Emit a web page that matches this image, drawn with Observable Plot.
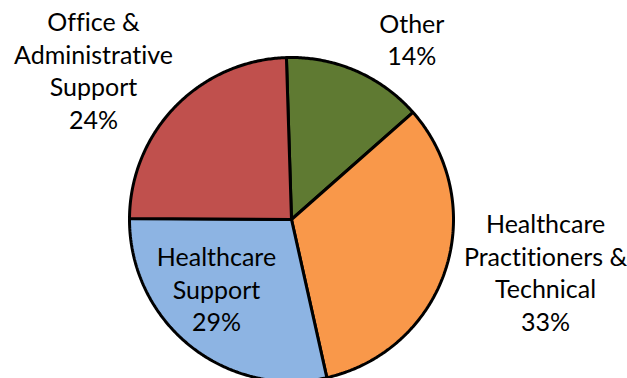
<!DOCTYPE html>
<html>
<head>
<meta charset="utf-8">
<script src="https://cdn.jsdelivr.net/npm/d3@7"></script>
<script src="https://cdn.jsdelivr.net/npm/@observablehq/plot@0.6"></script>
<style>
  html, body { margin: 0; padding: 0; background: #fff; overflow: hidden; }
  svg text { font-variant-ligatures: none; font-feature-settings: "liga" 0, "clig" 0; }
</style>
</head>
<body>
<div id="chart"></div>
<script>
// Data (clockwise from top)
const categories = ["Other", "Healthcare Practitioners & Technical", "Healthcare Support", "Office & Administrative Support"];
const labelLines = [
  ["Other", "14%"],
  ["Healthcare", "Practitioners &", "Technical", "33%"],
  ["Healthcare", "Support", "29%"],
  ["Office &", "Administrative", "Support", "24%"]
];
const shares = [14.0, 33.0, 28.6, 24.4];
const colors = ["#5f7a32", "#f9984a", "#8db4e3", "#c0504d"];

const W = 627, H = 378;
const R = 162;          // radius in pixel units
const cx = 291, cy = 219;
const startAngle = -1.8 * Math.PI / 180;

const pie = d3.pie().sort(null).value(d => d.value)
  .startAngle(startAngle).endAngle(startAngle + 2 * Math.PI);
const arcs = pie(categories.map((c, i) => ({key: c, value: shares[i], color: colors[i], lines: labelLines[i]})));

// polygon points for each slice, relative to center (y up)
const pts = [];
for (const a of arcs) {
  const n = Math.max(8, Math.ceil((a.endAngle - a.startAngle) / 0.01));
  pts.push({key: a.data.key, color: a.data.color, x: 0, y: 0});
  for (let k = 0; k <= n; k++) {
    const t = a.startAngle + (a.endAngle - a.startAngle) * k / n;
    pts.push({key: a.data.key, color: a.data.color, x: R * Math.sin(t), y: R * Math.cos(t)});
  }
  pts.push({key: a.data.key, color: a.data.color, x: 0, y: 0});
}

function mid(a, k) {
  const t = (a.startAngle + a.endAngle) / 2;
  return {text: a.data.lines.join("\n"), x: R * k * Math.sin(t), y: R * k * Math.cos(t)};
}

const font = "Lato, 'Open Sans', sans-serif";
const textOpts = {x: "x", y: "y", text: "text", fontSize: 25, lineHeight: 1.3, fill: "#000", textAnchor: "middle", lineAnchor: "middle"};

const chart = Plot.plot({
  width: W,
  height: H,
  margin: 0,
  style: {fontFamily: font, background: "#fff", overflow: "visible"},
  x: {domain: [-cx, W - cx], range: [0, W], axis: null},
  y: {domain: [cy - H, cy], range: [H, 0], axis: null},
  color: {type: "identity"},
  marks: [
    Plot.line(pts, {x: "x", y: "y", z: "key", fill: "color", stroke: "#000", strokeWidth: 3, strokeLinejoin: "miter"}),
    Plot.text([mid(arcs[0], 1.0)], {...textOpts, dx: 56, dy: -32}),
    Plot.text([mid(arcs[1], 1.0)], {...textOpts, dx: 100, dy: 2}),
    Plot.text([mid(arcs[2], 0.6)], {...textOpts, dx: -14, dy: -7}),
    Plot.text([mid(arcs[3], 1.0)], {...textOpts, dx: -82, dy: -37})
  ]
});
document.getElementById("chart").appendChild(chart);
</script>
</body>
</html>
